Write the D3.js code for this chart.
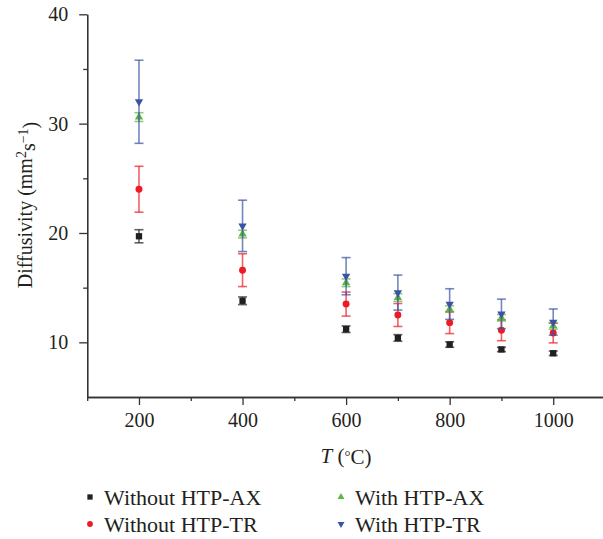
<!DOCTYPE html>
<html><head><meta charset="utf-8">
<script src="https://cdn.jsdelivr.net/npm/d3@7"></script>
<style>
html,body{margin:0;padding:0;background:#fff;}
svg{display:block;font-family:"Liberation Serif","DejaVu Serif",serif;}
</style></head>
<body><svg id="c" width="603" height="539"></svg>
<script>
const temps = [200, 400, 600, 700, 800, 900, 1000];
const withoutAX = [19.7, 13.8, 11.2, 10.4, 9.8, 9.35, 9.0];
const withoutAXErr = [0.6, 0.35, 0.3, 0.3, 0.25, 0.2, 0.2];
const withoutTR = [24.0, 16.6, 13.5, 12.5, 11.8, 11.1, 10.85];
const withoutTRErr = [2.1, 1.5, 1.1, 1.05, 1.0, 0.95, 0.9];
const withAX = [30.6, 19.9, 15.45, 14.1, 13.05, 12.25, 11.5];
const withAXErr = [0.4, 0.35, 0.35, 0.35, 0.3, 0.3, 0.3];
const withTR = [32.0, 20.65, 16.05, 14.55, 13.5, 12.6, 11.85];
const withTRErr = [3.8, 2.35, 1.7, 1.6, 1.4, 1.35, 1.2];
const seriesNames = ["Without HTP-AX", "Without HTP-TR", "With HTP-AX", "With HTP-TR"];
const xMajor = [200, 400, 600, 800, 1000];
const xMinor = [100, 300, 500, 700, 900, 1100];
const yMajor = [10, 20, 30, 40];
const yMinor = [15, 25, 35];

const series = [
  {name: seriesNames[0], v: withoutAX, e: withoutAXErr, color: "#231f20", sym: d3.symbolSquare, size: 40, rot: 0},
  {name: seriesNames[1], v: withoutTR, e: withoutTRErr, color: "#ed1c24", sym: d3.symbolCircle, size: 38, rot: 0},
  {name: seriesNames[2], v: withAX, e: withAXErr, color: "#62b446", sym: d3.symbolTriangle, size: 30, rot: 0},
  {name: seriesNames[3], v: withTR, e: withTRErr, color: "#3a53a4", sym: d3.symbolTriangle, size: 30, rot: 180}
];

const svg = d3.select("#c");
const x = d3.scaleLinear().domain([100, 1100]).range([87.2, 605]);
const y = d3.scaleLinear().domain([5, 40]).range([397, 14.3]);
const axisColor = "#333";

// axes
const gx = svg.append("g").attr("transform", `translate(0,${y(5)})`);
gx.call(d3.axisBottom(x).tickValues(xMajor).tickSize(8).tickSizeOuter(0).tickPadding(8).tickFormat(d3.format("d")));
gx.append("g").call(d3.axisBottom(x).tickValues(xMinor).tickSize(4).tickSizeOuter(0).tickFormat(""));
const gy = svg.append("g").attr("transform", `translate(${x(100)},0)`);
gy.call(d3.axisLeft(y).tickValues(yMajor).tickSize(8).tickSizeOuter(0).tickPadding(11).tickFormat(d3.format("d")));
gy.append("g").call(d3.axisLeft(y).tickValues(yMinor).tickSize(4).tickSizeOuter(0).tickFormat(""));
svg.selectAll(".domain").attr("stroke", axisColor).attr("stroke-width", 1.3);
svg.selectAll(".tick line").attr("stroke", axisColor).attr("stroke-width", 1.3);
svg.selectAll(".tick text").attr("fill", "#231f20").style("font-size", "20px").style("font-family", "Liberation Serif, serif");
gx.selectAll(".tick text").attr("dy", "0.68em");

// axis titles
const xt = svg.append("text").attr("x", 346).attr("y", 463).attr("text-anchor", "middle")
  .attr("fill", "#231f20").style("font-size", "21px");
xt.append("tspan").style("font-style", "italic").text("T");
xt.append("tspan").text(" (");
xt.append("tspan").text("°").attr("dy", "-0.15em").style("font-size", "15px");
xt.append("tspan").text("C)").attr("dy", "0.15em");

const yt = svg.append("text").attr("transform", "translate(32,205) rotate(-90)").attr("text-anchor", "middle")
  .attr("fill", "#231f20").style("font-size", "20px");
yt.append("tspan").text("Diffusivity (mm");
yt.append("tspan").text("2").attr("dy", "-0.45em").style("font-size", "14px");
yt.append("tspan").text("s").attr("dy", "0.45em");
yt.append("tspan").text("−1").attr("dy", "-0.45em").style("font-size", "14px");
yt.append("tspan").text(")").attr("dy", "0.45em");

// data marks
const capW = 4.5;
series.forEach(s => {
  const g = svg.append("g");
  const pts = temps.map((t, i) => ({t, v: s.v[i], e: s.e[i]}));
  const eg = g.append("g").attr("stroke", s.color).attr("stroke-opacity", 0.7).attr("stroke-width", 1.6);
  pts.forEach(p => {
    eg.append("line").attr("x1", x(p.t)).attr("x2", x(p.t)).attr("y1", y(p.v - p.e)).attr("y2", y(p.v + p.e));
    eg.append("line").attr("x1", x(p.t) - capW).attr("x2", x(p.t) + capW).attr("y1", y(p.v - p.e)).attr("y2", y(p.v - p.e));
    eg.append("line").attr("x1", x(p.t) - capW).attr("x2", x(p.t) + capW).attr("y1", y(p.v + p.e)).attr("y2", y(p.v + p.e));
  });
  g.selectAll("path.m").data(pts).enter().append("path").attr("class", "m")
    .attr("d", d3.symbol().type(s.sym).size(s.size))
    .attr("transform", p => `translate(${x(p.t)},${y(p.v)}) rotate(${s.rot})`)
    .attr("fill", s.color);
});

// legend
const legPos = [[90, 497], [90, 524], [341, 497], [341, 524]];
series.forEach((s, i) => {
  const [lx, ly] = legPos[i];
  svg.append("path").attr("d", d3.symbol().type(s.sym).size(s.size * 0.7))
    .attr("transform", `translate(${lx},${ly}) rotate(${s.rot})`).attr("fill", s.color);
  svg.append("text").attr("x", lx + 14).attr("y", ly).attr("dy", "0.35em")
    .attr("fill", "#231f20").style("font-size", "22px").text(s.name);
});
</script></body></html>
